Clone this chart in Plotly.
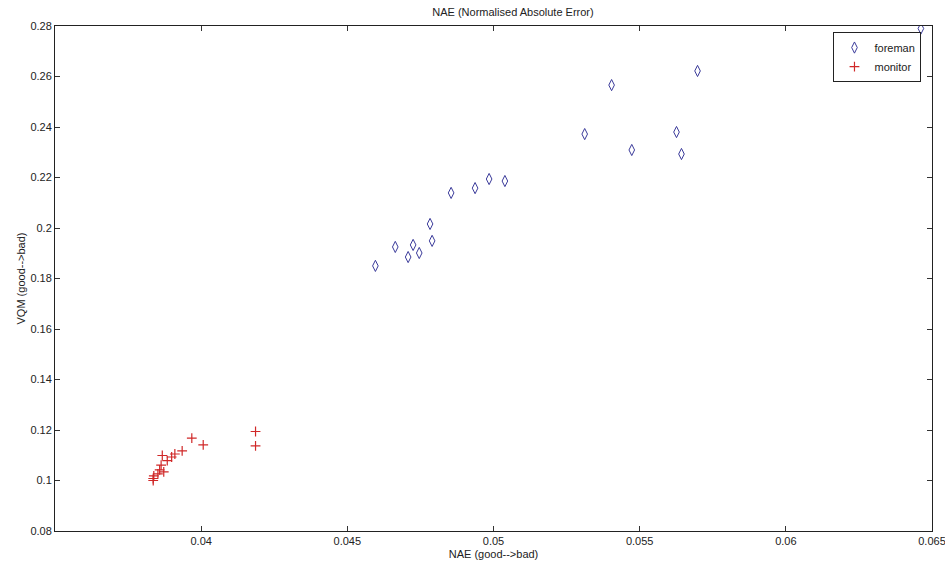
import plotly.graph_objects as go

foreman_x = [0.04596, 0.04664, 0.04708, 0.04725, 0.04746, 0.04783, 0.04790, 0.04855,
             0.04937, 0.04985, 0.05039, 0.05312, 0.05404, 0.05473, 0.05626, 0.05643,
             0.05698, 0.06462]
foreman_y = [0.1850, 0.1925, 0.1885, 0.1933, 0.1901, 0.2016, 0.1949, 0.2139,
             0.2158, 0.2194, 0.2186, 0.2372, 0.2566, 0.2309, 0.2380, 0.2293,
             0.2622, 0.2790]

monitor_x = [0.03836, 0.03836, 0.03838, 0.03852, 0.03858, 0.03872, 0.03863, 0.03867,
             0.03884, 0.03899, 0.03910, 0.03935, 0.03968, 0.04007, 0.04186, 0.04186]
monitor_y = [0.1000, 0.1008, 0.1018, 0.1026, 0.1042, 0.1034, 0.1061, 0.1099,
             0.1079, 0.1093, 0.1105, 0.1117, 0.1168, 0.1141, 0.1194, 0.1137]

x_ticks = [0.04, 0.045, 0.05, 0.055, 0.06, 0.065]
x_tick_labels = ["0.04", "0.045", "0.05", "0.055", "0.06", "0.065"]
y_ticks = [0.08, 0.10, 0.12, 0.14, 0.16, 0.18, 0.20, 0.22, 0.24, 0.26, 0.28]
y_tick_labels = ["0.08", "0.1", "0.12", "0.14", "0.16", "0.18", "0.2", "0.22", "0.24", "0.26", "0.28"]

font_family = "Liberation Sans, Arial, sans-serif"

fig = go.Figure()
fig.add_trace(go.Scatter(
    x=foreman_x, y=foreman_y, mode="markers", name="foreman",
    marker=dict(symbol="diamond-tall-open", size=8, color="#3a3a9a", line=dict(width=1, color="#3a3a9a")),
))
fig.add_trace(go.Scatter(
    x=monitor_x, y=monitor_y, mode="markers", name="monitor",
    marker=dict(symbol="cross-thin-open", size=7, color="#d02828", line=dict(width=1.2, color="#d02828")),
))

axis_common = dict(
    showgrid=False, zeroline=False, showline=True, linecolor="#222", linewidth=1,
    ticks="inside", ticklen=5, tickcolor="#333", mirror="allticks", automargin=False,
    ticklabeloverflow="allow",
    tickfont=dict(family=font_family, size=11, color="#222"),
)

fig.update_layout(
    width=945, height=567,
    paper_bgcolor="white", plot_bgcolor="white",
    margin=dict(l=55, r=13, t=26, b=36, autoexpand=False),
    title=dict(text="NAE (Normalised Absolute Error)", x=(55 + 932) / 2 / 945, xanchor="center",
               xref="paper", yref="container", y=1 - 12 / 567, yanchor="middle",
               font=dict(family=font_family, size=11, color="#222")),
    xaxis=dict(range=[0.035, 0.0650002], tickvals=x_ticks, ticktext=x_tick_labels,
               title=dict(text="NAE (good-->bad)", standoff=4,
                          font=dict(family=font_family, size=11, color="#222")),
               **axis_common),
    yaxis=dict(range=[0.08, 0.28], tickvals=y_ticks, ticktext=y_tick_labels,
               title=dict(text="VQM (good-->bad)", standoff=2,
                          font=dict(family=font_family, size=11, color="#222")),
               **axis_common),
    legend=dict(x=0.988, y=0.988, xanchor="right", yanchor="top",
                bordercolor="#222", borderwidth=1, bgcolor="white",
                font=dict(family=font_family, size=11, color="#222"),
                itemwidth=30, tracegroupgap=0),
    showlegend=True,
)

fig.write_html(
    "out.html",
    config={"displayModeBar": False},
    post_script="document.body.style.margin='0';document.body.style.padding='0';document.body.style.overflow='hidden';",
)
